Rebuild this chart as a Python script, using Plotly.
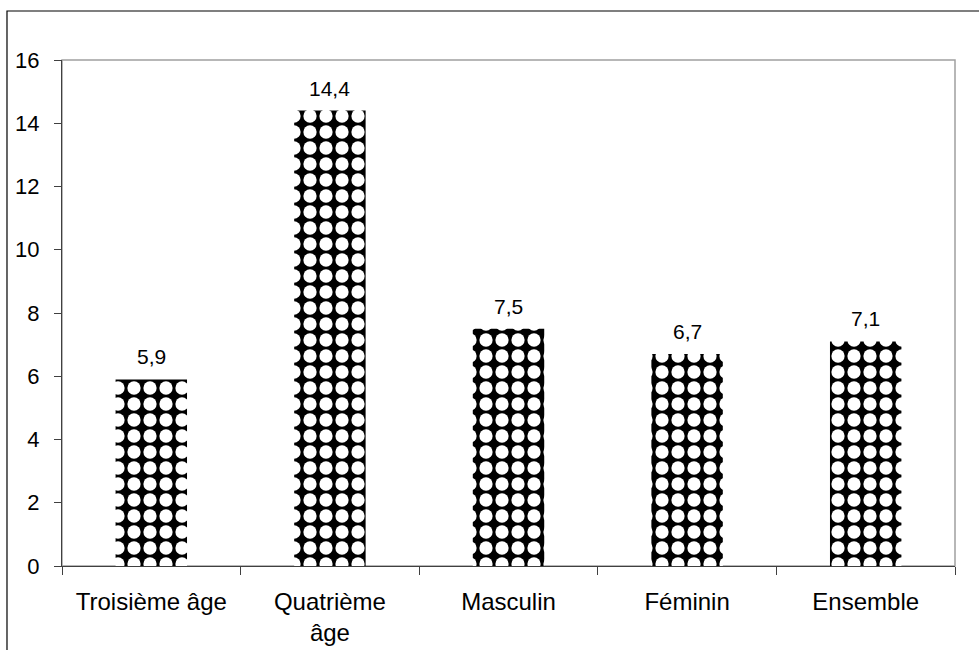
import plotly.graph_objects as go

categories = ["Troisième âge", "Quatrième<br>âge", "Masculin", "Féminin", "Ensemble"]
values = [5.9, 14.4, 7.5, 6.7, 7.1]
value_labels = [f"{v:.1f}".replace(".", ",") for v in values]
y_ticks = [0, 2, 4, 6, 8, 10, 12, 14, 16]

fig = go.Figure(go.Bar(
    x=categories, y=values,
    width=0.4,
    marker=dict(color="black", line=dict(width=0),
                pattern=dict(shape=".", fgcolor="white", bgcolor="black",
                             size=16, solidity=0.54, fillmode="replace")),
))

for c, v, t in zip(categories, values, value_labels):
    fig.add_annotation(x=c, y=v, text=t, showarrow=False, yanchor="bottom",
                       yshift=9, font=dict(size=21, color="black"))

fig.update_layout(
    width=979, height=650,
    margin=dict(l=62, r=24, t=60, b=84, autoexpand=False),
    paper_bgcolor="white", plot_bgcolor="white",
    font=dict(family="Liberation Sans, Arial, sans-serif", color="black", size=22),
    showlegend=False,
    shapes=[
        dict(type="rect", xref="paper", yref="paper", x0=0, x1=1, y0=0, y1=1,
             line=dict(color="#a0a0a0", width=1.5), layer="below"),
        dict(type="rect", xref="paper", yref="paper", x0=-0.0616, x1=1.2, y0=-0.3, y1=1.0968,
             line=dict(color="black", width=1.2), layer="below"),
    ],
)
fig.update_xaxes(showline=True, linecolor="#404040", linewidth=1.2, ticks="outside",
                 tickson="boundaries", ticklen=8, tickcolor="#404040", automargin=False,
                 tickfont=dict(size=24), ticklabelstandoff=14, showgrid=False)
fig.update_yaxes(range=[0, 16], tickvals=y_ticks, showline=True, linecolor="#404040",
                 linewidth=1.2, ticks="outside", ticklen=7, tickcolor="#404040", automargin=False,
                 tickfont=dict(size=22), ticklabelstandoff=10, showgrid=False, zeroline=False)

fig.write_html("out.html", config={"displayModeBar": False},
               post_script="document.body.style.margin='0';")
